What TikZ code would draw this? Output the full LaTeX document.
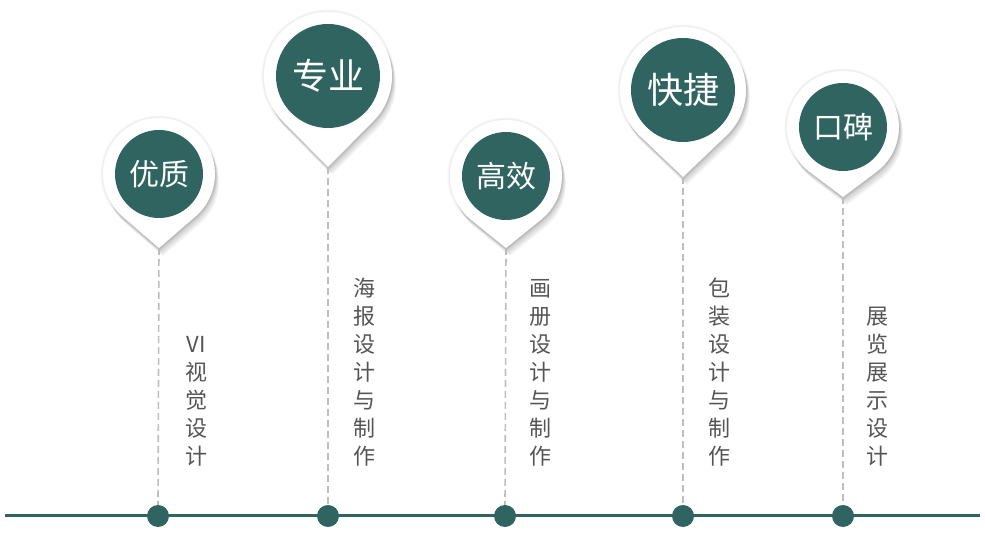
\documentclass[tikz,border=0pt]{standalone}
\usepackage{fontspec}
\newfontfamily\cjk{Noto Sans CJK SC}
\usetikzlibrary{positioning}
\definecolor{tealdark}{RGB}{48,100,97}
\definecolor{dashgray}{RGB}{190,190,190}
\definecolor{textgray}{RGB}{85,85,85}
% pin body: #1 x, #2 y, #3 outer radius, #4 distance centre to tip, #5 name of tip
\newcommand{\pinbody}[5]{%
  \pgfmathsetmacro{\pa}{acos(#3/#4)}%
  \foreach \s in {1,...,8}{%
    \fill[black, opacity=0.03, shift={(\s*0.5pt,-\s*1pt)}]
      (#1pt,#2pt-#4pt) -- ([shift={(-90+\pa:#3pt)}]#1pt,#2pt)
      arc[start angle=-90+\pa, end angle=270-\pa, radius=#3pt] -- cycle;}
  \foreach \w in {5pt,3pt}{%
    \draw[black, opacity=0.03, line width=\w, line join=round]
      (#1pt,#2pt-#4pt) -- ([shift={(-90+\pa:#3pt)}]#1pt,#2pt)
      arc[start angle=-90+\pa, end angle=270-\pa, radius=#3pt] -- cycle;}
  \fill[white] (#1pt,#2pt-#4pt) -- ([shift={(-90+\pa:#3pt)}]#1pt,#2pt)
    arc[start angle=-90+\pa, end angle=270-\pa, radius=#3pt] -- cycle;
  \coordinate (#5) at (#1pt,#2pt-#4pt);}

\begin{document}
\begin{tikzpicture}[
  head/.style={circle, fill=tealdark, text=white, inner sep=0pt},
  smallhead/.style={head, minimum size=88pt, font=\cjk\fontsize{30}{30}\selectfont},
  bighead/.style={head, minimum size=104pt, font=\cjk\fontsize{36}{36}\selectfont},
  dot/.style={circle, fill=tealdark, minimum size=22pt, inner sep=0pt},
  stem/.style={dashgray, line width=1.6pt, dash pattern=on 7pt off 4pt},
  vtext/.style={anchor=south, align=center, text=textgray,
                font=\cjk\fontsize{22}{28}\selectfont},
  baseline/.style={tealdark, line width=3pt}
]
\useasboundingbox (0,0) rectangle (985pt,535pt);

%% ===== axis =====
\coordinate (axl) at (5pt,19pt);
\coordinate (axr) at (980pt,19pt);
\draw[baseline] (axl) -- (axr);

%% ===== pins =====
\pinbody{159}{361}{56}{74}{tip1}
\node[smallhead] (youzhi) at (159pt,361pt) {优质};
\pinbody{328}{459}{64}{91}{tip2}
\node[bighead] (zhuanye) at (328pt,459pt) {专业};
\pinbody{506}{359}{56}{72}{tip3}
\node[smallhead] (gaoxiao) at (506pt,359pt) {高效};
\pinbody{683}{445}{63}{87}{tip4}
\node[bighead] (kuaijie) at (683pt,445pt) {快捷};
\pinbody{843}{408}{56}{70}{tip5}
\node[smallhead] (koubei) at (843pt,408pt) {口碑};

%% ===== dots on the axis =====
\node[dot] (d1) at (158pt,19pt) {};
\node[dot] (d2) at (328pt,19pt) {};
\node[dot] (d3) at (505pt,19pt) {};
\node[dot] (d4) at (683pt,19pt) {};
\node[dot] (d5) at (843pt,19pt) {};

%% ===== stems =====
\draw[stem] (tip1) -- (d1.north);
\draw[stem] (tip2) -- (d2.north);
\draw[stem] (tip3) -- (d3.north);
\draw[stem] (tip4) -- (d4.north);
\draw[stem] (tip5) -- (d5.north);

%% ===== labels =====
\node[vtext] (t1) at (196pt,65pt) {VI\\视\\觉\\设\\计};
\node[vtext] (t2) at (364pt,65pt) {海\\报\\设\\计\\与\\制\\作};
\node[vtext] (t3) at (540pt,65pt) {画\\册\\设\\计\\与\\制\\作};
\node[vtext] (t4) at (719pt,65pt) {包\\装\\设\\计\\与\\制\\作};
\node[vtext] (t5) at (877pt,65pt) {展\\览\\展\\示\\设\\计};

\end{tikzpicture}
\end{document}
